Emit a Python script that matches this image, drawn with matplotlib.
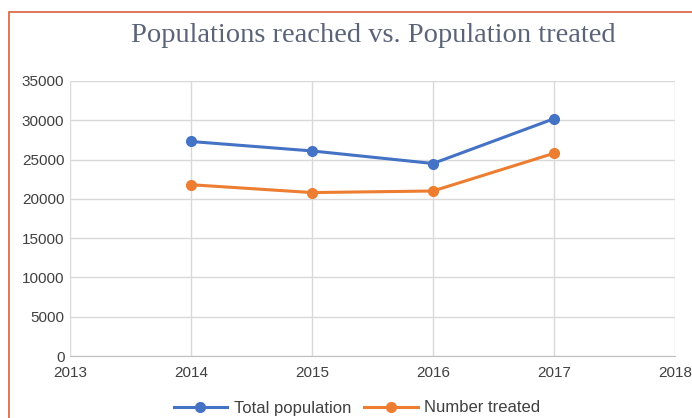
import matplotlib.pyplot as plt
from matplotlib.patches import Rectangle
from matplotlib.lines import Line2D

years = [2014, 2015, 2016, 2017]
total_population = [27300, 26100, 24500, 30200]
number_treated = [21800, 20800, 21000, 25800]
series_labels = ['Total population', 'Number treated']
y_ticks = [0, 5000, 10000, 15000, 20000, 25000, 30000, 35000]
x_ticks = [2013, 2014, 2015, 2016, 2017, 2018]

blue = '#4472c4'
orange = '#ed7d31'

fig = plt.figure(figsize=(6.92, 4.18), dpi=100)
ax = fig.add_axes([70 / 692, 1 - 356 / 418, 605 / 692, 275 / 418])

ax.plot(years, total_population, color=blue, lw=2.2, marker='o', ms=7, label=series_labels[0])
ax.plot(years, number_treated, color=orange, lw=2.2, marker='o', ms=7, label=series_labels[1])

ax.set_xlim(2013, 2018)
ax.set_ylim(0, 35000)
ax.set_xticks(x_ticks)
ax.set_yticks(y_ticks)
ax.grid(True, color='#d9d9d9', lw=1)
ax.set_axisbelow(True)
for side in ['top', 'right', 'left']:
    ax.spines[side].set_visible(False)
ax.spines['bottom'].set_color('#bfbfbf')
ax.tick_params(length=0, labelsize=11, colors='#404040')
ax.tick_params(axis='x', pad=7)
ax.tick_params(axis='y', pad=4)
for lab in ax.get_xticklabels() + ax.get_yticklabels():
    lab.set_fontfamily('Liberation Sans')

fig.text(373 / 692, 1 - 35 / 418, 'Populations reached vs. Population treated',
         ha='center', va='center', fontsize=20.5, color='#5a6378', family='Liberation Serif')

# legend at the bottom edge
handles = [Line2D([], [], color=blue, lw=2.2, marker='o', ms=7),
           Line2D([], [], color=orange, lw=2.2, marker='o', ms=7)]
leg = fig.legend(handles, series_labels, loc='center', bbox_to_anchor=(357 / 692, 1 - 408 / 418),
                 ncol=2, frameon=False, prop={'family': 'Liberation Sans', 'size': 12},
                 handlelength=3.2, columnspacing=0.8, handletextpad=0.4,
                 borderpad=0.1)
for t in leg.get_texts():
    t.set_color('#404040')

# red chart border
fig.patches.append(Rectangle((9 / 692, -0.1), 1.0, (1 - 12 / 418) + 0.1,
                             transform=fig.transFigure, fill=False,
                             edgecolor='#d9603b', lw=1.2))

fig.savefig('out.png', dpi=100)
